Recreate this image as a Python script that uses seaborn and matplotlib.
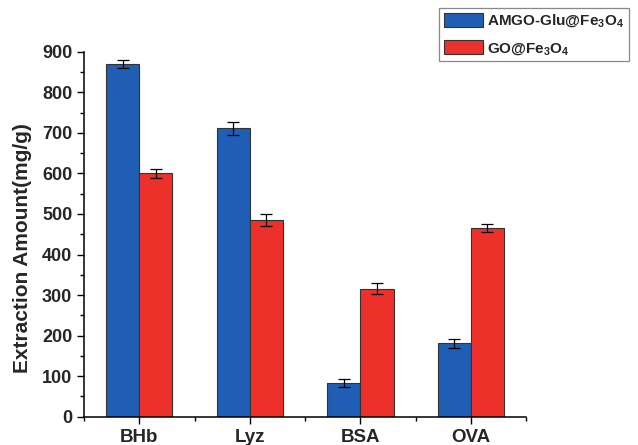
import numpy as np
import pandas as pd
import matplotlib
matplotlib.use("Agg")
import matplotlib.pyplot as plt
from matplotlib.ticker import MultipleLocator, FixedLocator
import seaborn as sns

# values
proteins = ["BHb", "Lyz", "BSA", "OVA"]
materials = ["AMGO-Glu@Fe$_3$O$_4$", "GO@Fe$_3$O$_4$"]
amgo_vals = [870, 712, 83, 181]
amgo_err = [10, 16, 10, 11]
go_vals = [600, 485, 316, 465]
go_err = [11, 15, 14, 10]
colors = ["#1f5eb4", "#ee302a"]

sns.set_style("ticks")
plt.rcParams["font.family"] = ["Liberation Sans", "DejaVu Sans"]
plt.rcParams["font.weight"] = "bold"
plt.rcParams["mathtext.default"] = "regular"

df = pd.DataFrame({
    "protein": proteins * 2,
    "material": [materials[0]] * 4 + [materials[1]] * 4,
    "amount": amgo_vals + go_vals,
})

fig = plt.figure(figsize=(6.38, 4.45), dpi=100)
ax = fig.add_axes([0.1317, 0.0636, 0.693, 0.820])

sns.barplot(data=df, x="protein", y="amount", hue="material", order=proteins,
            hue_order=materials, palette=colors, saturation=1, width=0.6, gap=0,
            edgecolor="#333333", linewidth=0.8, errorbar=None, ax=ax)

bar_groups = list(ax.containers)
handles = [grp.patches[0] for grp in bar_groups]

# error bars on top of each bar
for grp, vals, errs in zip(bar_groups, [amgo_vals, go_vals], [amgo_err, go_err]):
    xs = [b.get_x() + b.get_width() / 2 for b in grp]
    ax.errorbar(xs, vals, yerr=errs, fmt="none", ecolor="black",
                elinewidth=0.9, capsize=4, capthick=0.9)

ax.set_xlim(-0.5, 3.5)
ax.set_ylim(0, 900)
ax.yaxis.set_major_locator(MultipleLocator(100))
ax.yaxis.set_minor_locator(MultipleLocator(50))
ax.xaxis.set_minor_locator(FixedLocator([-0.5, 0.5, 1.5, 2.5, 3.5]))
ax.tick_params(which="both", direction="out", width=1, color="black")
ax.tick_params(which="major", length=5)
ax.tick_params(which="minor", length=3)
ax.tick_params(axis="y", labelsize=13)
ax.tick_params(axis="x", labelsize=13.5)
for lab in ax.get_xticklabels() + ax.get_yticklabels():
    lab.set_fontweight("bold")

for side in ["left", "bottom"]:
    ax.spines[side].set_linewidth(1.1)
    ax.spines[side].set_color("black")
sns.despine(ax=ax)

ax.set_xlabel("")
ax.set_ylabel("Extraction Amount(mg/g)", fontsize=15, fontweight="bold")
ax.yaxis.set_label_coords(-0.117, 0.462)

ax.get_legend().remove()
leg = fig.legend(handles, materials, loc="upper left",
                 bbox_to_anchor=(439 / 638, 1 - 8 / 445), frameon=True,
                 fancybox=False, edgecolor="#888888", framealpha=1,
                 prop={"weight": "bold", "size": 11},
                 handlelength=2.55, handleheight=1.0, borderpad=0.3,
                 labelspacing=0.7, handletextpad=0.3, borderaxespad=0)
leg.get_frame().set_linewidth(0.9)

fig.savefig("out.png", dpi=100)
